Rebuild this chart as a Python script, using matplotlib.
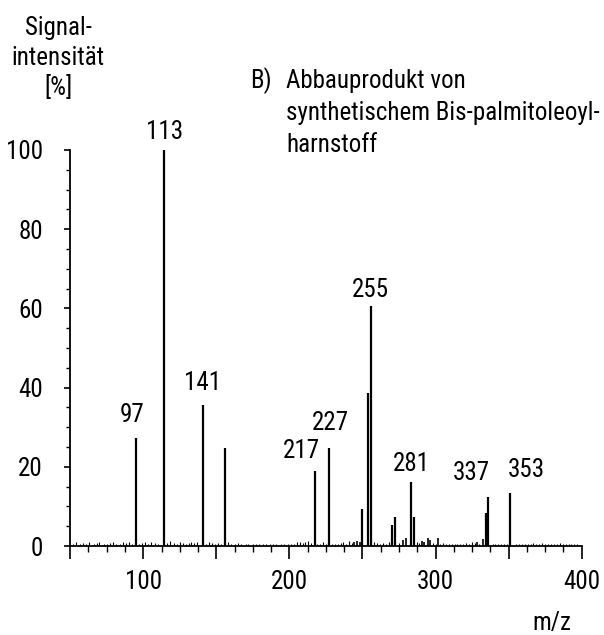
import matplotlib
matplotlib.use("Agg")
import matplotlib.pyplot as plt
from matplotlib.ticker import MultipleLocator, FuncFormatter
from matplotlib import font_manager

# main peaks (m/z as drawn, relative intensity in %)
peak_mz = [95, 114.4, 140.6, 156, 217.5, 227, 250, 253.6, 255.8,
           270, 272.2, 283.2, 285.3, 334.3, 335.7, 351]
peak_int = [27.2, 100, 35.7, 24.7, 19.0, 24.7, 9.3, 38.7, 60.6,
            5.3, 7.2, 16.1, 7.2, 8.4, 12.4, 13.3]

# small peaks near the cluster region
minor_mz = [277.5, 279.8, 290.5, 292, 295.0, 296.2, 301.5, 328.2, 332.3, 244, 246, 248]
minor_int = [1.5, 2.1, 1.2, 1.0, 1.9, 1.6, 1.9, 1.1, 1.8, 1.0, 1.3, 0.9]

# baseline noise
noise = [(52, 0.6), (54, 0.9), (57, 0.5), (59, 0.8), (61, 0.6), (63, 1.0), (66, 0.5),
         (68, 0.7), (70, 0.9), (73, 0.6), (75, 0.5), (77, 0.8), (79, 1.0), (81, 0.6),
         (84, 0.5), (86, 0.9), (88, 0.7), (90, 1.1), (92, 0.6), (97, 0.5), (99, 0.8),
         (101, 0.9), (103, 0.6), (105, 1.0), (108, 0.7), (110, 0.5), (116, 0.7), (118, 1.3),
         (121, 0.8), (123, 0.6), (125, 0.9), (127, 0.7), (129, 0.6), (131, 0.8), (133, 1.0),
         (135, 0.7), (137, 1.1), (143, 0.6), (145, 0.9), (147, 0.7), (149, 0.5), (151, 0.8),
         (153, 0.6), (158, 0.9), (160, 0.6), (163, 0.5), (165, 0.7), (167, 0.6), (170, 0.5),
         (172, 0.6), (175, 0.5), (177, 0.6), (179, 0.5), (182, 0.6), (184, 0.5), (187, 0.6),
         (189, 0.5), (191, 0.6), (194, 0.5), (196, 0.6), (199, 0.5), (201, 0.6), (203, 0.5),
         (205, 0.9), (207, 1.1), (209, 0.7), (211, 1.0), (213, 1.3), (215, 0.8), (219, 0.6),
         (221, 0.5), (223, 1.0), (225, 0.6), (229, 0.5), (231, 0.6), (233, 0.5), (235, 0.7),
         (237, 0.9), (239, 0.6), (241, 1.2), (243, 0.7), (258, 1.0), (260, 0.7), (262, 0.6),
         (264, 0.8), (266, 0.6), (268, 0.9), (275, 0.8), (287, 0.9), (289, 0.7), (294, 0.6),
         (298, 0.7), (300, 0.6), (303, 0.5), (305, 0.7), (307, 0.6), (309, 0.5), (311, 0.6),
         (313, 0.5), (315, 0.6), (317, 0.5), (319, 0.6), (321, 0.8), (323, 0.6), (325, 1.0),
         (327, 0.7), (330, 0.6), (339, 0.6), (341, 0.5), (343, 0.6), (345, 0.5), (347, 0.6),
         (349, 0.5), (355, 0.6), (357, 0.5), (359, 0.6), (361, 0.5), (363, 0.6), (365, 0.5),
         (367, 0.7), (369, 0.5), (371, 0.6), (373, 0.8), (375, 0.5), (377, 0.6), (379, 0.5),
         (381, 0.6), (383, 0.5), (385, 0.7), (387, 0.5), (389, 0.6), (391, 0.5), (393, 0.6),
         (395, 0.5), (397, 0.6)]

# peak labels: text, x, y (data coords)
label_text = ["113", "97", "141", "217", "227", "255", "281", "337", "353"]
label_x = [114.5, 92.5, 140.5, 208, 228.4, 255.8, 283.2, 324.2, 362]
label_y = [104.5, 33, 41.2, 24, 31, 64.6, 20.7, 18.4, 19.2]

ylabel_lines = ["Signal-", "intensität", "[%]"]
title_lines = ["Abbauprodukt von", "synthetischem Bis-palmitoleoyl-", "harnstoff"]

# narrow sans like the original, first one that is installed
installed = {f.name for f in font_manager.fontManager.ttflist}
fam = [f for f in ["Liberation Sans Narrow", "Roboto Condensed", "Archivo Narrow"] if f in installed]
fam = fam[:1] + ["Liberation Sans", "DejaVu Sans"]
plt.rcParams["font.family"] = fam
fs = 18

fig = plt.figure(figsize=(6.04, 6.35), dpi=100)
ax = fig.add_axes([70.2 / 604, 89 / 635, 350 * 1.4613 / 604, 396 / 635])

noise_mz = [n[0] for n in noise]
noise_int = [n[1] for n in noise]
ax.vlines(noise_mz, 0, noise_int, color="black", linewidth=0.8)
ax.vlines(minor_mz, 0, minor_int, color="black", linewidth=1.2)
ax.vlines(peak_mz, 0, peak_int, color="black", linewidth=1.6)

for t, x, y in zip(label_text, label_x, label_y):
    ax.text(x, y, t, ha="center", va="center", fontsize=fs)

ax.set_xlim(50, 400)
ax.set_ylim(0, 100)
for s in ["top", "right"]:
    ax.spines[s].set_visible(False)
ax.spines["left"].set_linewidth(1.3)
ax.spines["bottom"].set_linewidth(1.3)

ax.xaxis.set_major_locator(MultipleLocator(50))
ax.xaxis.set_minor_locator(MultipleLocator(12.5))
ax.xaxis.set_major_formatter(FuncFormatter(lambda v, _: f"{int(v)}" if v % 100 == 0 and v > 50 else ""))
ax.yaxis.set_major_locator(MultipleLocator(20))
ax.yaxis.set_minor_locator(MultipleLocator(5))
ax.tick_params(axis="x", which="major", direction="out", length=9.5, width=1.2,
               labelsize=fs, pad=7.5)
ax.tick_params(axis="x", which="minor", direction="out", length=4.3, width=1.0)
ax.tick_params(axis="y", which="major", direction="out", length=4.5, width=1.2,
               labelsize=fs, pad=15)
ax.tick_params(axis="y", which="minor", direction="out", length=3, width=1.0)

for i, line in enumerate(ylabel_lines):
    fig.text(58 / 604, 1 - (35 + 30 * i) / 635, line, ha="center", va="baseline", fontsize=fs)
fig.text(250 / 604, 1 - 88 / 635, "B)", ha="left", va="baseline", fontsize=fs)
for i, line in enumerate(title_lines):
    fig.text(286 / 604, 1 - (88 + 32 * i) / 635, line, ha="left", va="baseline", fontsize=fs)
fig.text(552 / 604, 1 - 623 / 635, "m/z", ha="center", va="center", fontsize=fs)

fig.savefig("out.png", dpi=100)
